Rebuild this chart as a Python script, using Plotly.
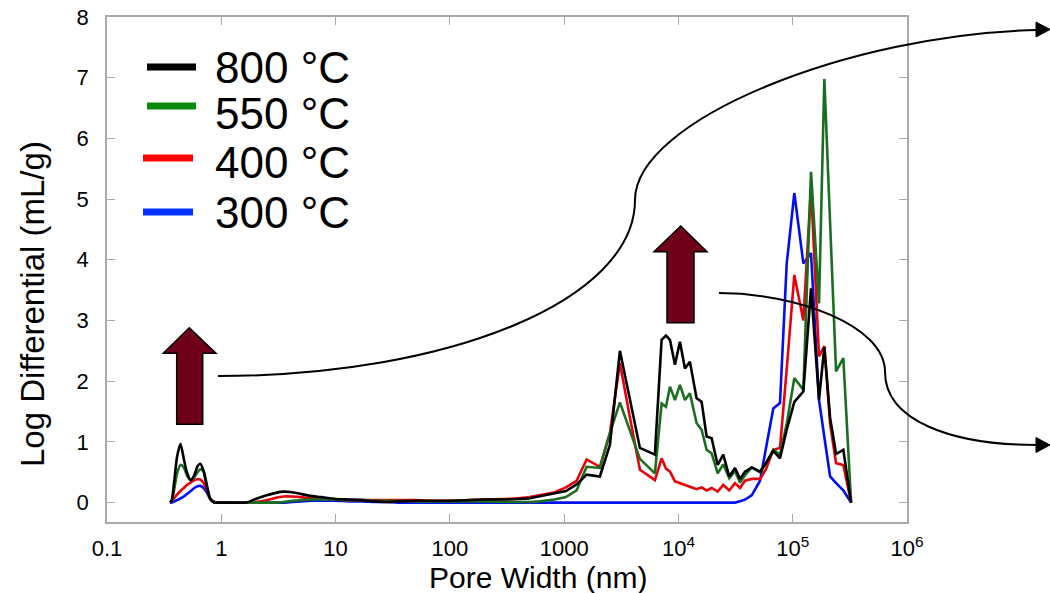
import plotly.graph_objects as go

# ---------------- data ----------------
pore_width_nm = [
    0.357, 0.37, 0.39, 0.41, 0.44, 0.47, 0.50, 0.54, 0.58, 0.62,
    0.655, 0.70, 0.75, 0.80, 0.87, 0.95, 1.3, 1.66, 2.0, 2.5,
    3.0, 3.5, 4.2, 5.0, 6.0, 7.5, 10, 13, 17, 22,
    28, 35, 50, 70, 100, 150, 200, 300, 400, 500,
    612, 829, 1036, 1285, 1572, 2054, 2514, 3075, 3762, 4602,
    6224, 7125, 7778, 8433, 9325, 10310, 11400, 12600, 14420, 15950,
    17650, 19530, 22050, 24670, 27850, 31250, 34570, 38240, 43780, 51770,
    58380, 67610, 77380, 88630, 103300, 123900, 144600, 169900, 189100, 212300,
    239500, 277200, 324200,
]

t800 = [
    0.0, 0.05, 0.40, 0.75, 0.97, 0.72, 0.50, 0.37, 0.45, 0.60,
    0.64, 0.52, 0.25, 0.06, 0.0, 0.0, 0.0, 0.0, 0.06, 0.12,
    0.16, 0.18, 0.17, 0.14, 0.11, 0.09, 0.06, 0.05, 0.04, 0.02,
    0.01, 0.02, 0.03, 0.03, 0.03, 0.04, 0.05, 0.05, 0.06, 0.07,
    0.10, 0.15, 0.19, 0.30, 0.46, 0.43, 0.95, 2.50, 1.70, 0.90,
    0.79, 2.68, 2.75, 2.68, 2.27, 2.65, 2.21, 2.32, 1.72, 1.66,
    1.09, 1.06, 0.62, 0.79, 0.43, 0.57, 0.39, 0.51, 0.58, 0.51,
    0.65, 0.85, 0.73, 1.20, 1.66, 1.83, 3.53, 1.70, 2.56, 1.40,
    0.80, 0.87, 0.0,
]

t550 = [
    0.0, 0.03, 0.25, 0.48, 0.62, 0.58, 0.45, 0.37, 0.42, 0.50,
    0.55, 0.52, 0.28, 0.06, 0.0, 0.0, 0.0, 0.0, 0.0, 0.0,
    0.0, 0.01, 0.03, 0.04, 0.05, 0.05, 0.05, 0.04, 0.04, 0.03,
    0.03, 0.03, 0.02, 0.02, 0.02, 0.02, 0.02, 0.01, 0.01, 0.01,
    0.02, 0.05, 0.09, 0.20, 0.59, 0.57, 1.15, 1.65, 1.20, 0.72,
    0.48, 1.63, 1.58, 1.91, 1.69, 1.94, 1.69, 1.80, 1.31, 1.20,
    0.87, 0.81, 0.48, 0.63, 0.40, 0.52, 0.33, 0.45, 0.58, 0.50,
    0.65, 0.87, 0.79, 1.30, 2.05, 1.86, 5.45, 3.28, 6.98, 4.60,
    2.16, 2.38, 0.0,
]

t400 = [
    0.0, 0.03, 0.08, 0.13, 0.19, 0.24, 0.29, 0.33, 0.37, 0.385,
    0.38, 0.32, 0.20, 0.07, 0.01, 0.0, 0.0, 0.0, 0.01, 0.04,
    0.08, 0.10, 0.10, 0.09, 0.07, 0.06, 0.05, 0.04, 0.04, 0.04,
    0.04, 0.04, 0.04, 0.03, 0.03, 0.04, 0.05, 0.06, 0.07, 0.09,
    0.12, 0.17, 0.25, 0.36, 0.71, 0.59, 1.14, 2.30, 1.40, 0.54,
    0.37, 0.73, 0.56, 0.51, 0.35, 0.32, 0.29, 0.26, 0.22, 0.25,
    0.20, 0.24, 0.18, 0.29, 0.20, 0.32, 0.24, 0.36, 0.39, 0.39,
    0.55, 0.87, 0.90, 2.20, 3.75, 3.00, 5.20, 2.41, 2.58, 1.30,
    0.65, 0.62, 0.0,
]

t300 = [
    0.0, 0.0, 0.02, 0.04, 0.07, 0.10, 0.14, 0.19, 0.24, 0.27,
    0.275, 0.24, 0.16, 0.06, 0.01, 0.0, 0.0, 0.0, 0.0, 0.0,
    0.0, 0.0, 0.01, 0.02, 0.03, 0.03, 0.03, 0.02, 0.02, 0.01,
    0.01, 0.0, 0.0, 0.0, 0.0, 0.0, 0.0, 0.0, 0.0, 0.0,
    0.0, 0.0, 0.0, 0.0, 0.0, 0.0, 0.0, 0.0, 0.0, 0.0,
    0.0, 0.0, 0.0, 0.0, 0.0, 0.0, 0.0, 0.0, 0.0, 0.0,
    0.0, 0.0, 0.0, 0.0, 0.0, 0.0, 0.02, 0.05, 0.12, 0.36,
    0.90, 1.55, 1.64, 3.94, 5.10, 3.94, 4.11, 1.69, 1.08, 0.43,
    0.32, 0.20, 0.0,
]

series_names = ["800 °C", "550 °C", "400 °C", "300 °C"]
x_tick_vals = [0.1, 1, 10, 100, 1000, 1e4, 1e5, 1e6]
x_tick_text = ["0.1", "1", "10", "100", "1000", "10<sup>4</sup>", "10<sup>5</sup>", "10<sup>6</sup>"]
y_tick_vals = [0, 1, 2, 3, 4, 5, 6, 7, 8]

# ---------------- styling ----------------
W, H = 1050, 593
PL, PR, PT, PB = 107, 907, 17, 522
FONT = "Liberation Sans, Arial, sans-serif"

def fx(x):
    return (x - PL) / (PR - PL)

def fy(y):
    return (PB - y) / (PB - PT)

def path(cmds):
    out = []
    for c in cmds:
        if isinstance(c, str):
            out.append(c)
        else:
            out.append(f"{fx(c[0]):.5f},{fy(c[1]):.5f}")
    return " ".join(out)

plot_colors = {"800 °C": "#000000", "550 °C": "#1a6e1f", "400 °C": "#e8000b", "300 °C": "#0010f0"}
legend_colors = {"800 °C": "#000000", "550 °C": "#0a8a0a", "400 °C": "#ff0000", "300 °C": "#0033ff"}
values = {"800 °C": t800, "550 °C": t550, "400 °C": t400, "300 °C": t300}

fig = go.Figure()
split = 40
for name in ["300 °C", "400 °C", "550 °C", "800 °C"]:
    v = values[name]
    c = plot_colors[name]
    fig.add_trace(go.Scatter(x=pore_width_nm[:split], y=v[:split], mode="lines",
                             line=dict(color=c, width=2.6, shape="spline", smoothing=0.6),
                             showlegend=False, hoverinfo="skip"))
    fig.add_trace(go.Scatter(x=pore_width_nm[split - 1:], y=v[split - 1:], mode="lines",
                             line=dict(color=c, width=2.6),
                             showlegend=False, name=name))

shapes = []
# custom legend
leg = [("800 °C", 147, 196, 67, 68), ("550 °C", 147, 196, 106, 114),
       ("400 °C", 143, 193, 158, 162), ("300 °C", 143, 193, 212, 212)]
annotations = []
for name, x0, x1, ly, ty in leg:
    shapes.append(dict(type="line", xref="paper", yref="paper", x0=fx(x0), x1=fx(x1), y0=fy(ly), y1=fy(ly),
                       line=dict(color=legend_colors[name], width=7)))
    annotations.append(dict(text=name, xref="paper", yref="paper", x=fx(213), y=fy(ty),
                            xanchor="left", yanchor="middle", showarrow=False,
                            font=dict(size=44, color="black", family=FONT)))

arrow_fill = "#6e0019"
# block arrows
shapes.append(dict(type="path", xref="paper", yref="paper",
                   path=path(["M", (189.3, 327.7), "L", (216, 353.3), "L", (202.7, 353.3), "L", (202.7, 424.3),
                              "L", (176.7, 424.3), "L", (176.7, 353.3), "L", (163.3, 353.3), "Z"]),
                   fillcolor=arrow_fill, line=dict(color="black", width=1.5)))
shapes.append(dict(type="path", xref="paper", yref="paper",
                   path=path(["M", (680.7, 226), "L", (707, 251.7), "L", (694, 251.7), "L", (694, 322.7),
                              "L", (667, 322.7), "L", (667, 251.7), "L", (654, 251.7), "Z"]),
                   fillcolor=arrow_fill, line=dict(color="black", width=1.5)))
# curved arrows
shapes.append(dict(type="path", xref="paper", yref="paper",
                   path=path(["M", (218, 376), "C", (450, 376), (635, 300), (635, 200),
                              "C", (635, 120), (850, 34), (1037, 30)]),
                   line=dict(color="black", width=2)))
shapes.append(dict(type="path", xref="paper", yref="paper",
                   path=path(["M", (1050, 29.5), "L", (1036, 22), "L", (1036, 37), "Z"]),
                   fillcolor="black", line=dict(color="black", width=1)))
shapes.append(dict(type="path", xref="paper", yref="paper",
                   path=path(["M", (719, 293), "C", (795, 293), (885, 325), (885, 372),
                              "C", (885, 420), (950, 445), (1037, 445)]),
                   line=dict(color="black", width=2)))
shapes.append(dict(type="path", xref="paper", yref="paper",
                   path=path(["M", (1050, 445), "L", (1036, 437.5), "L", (1036, 452.5), "Z"]),
                   fillcolor="black", line=dict(color="black", width=1)))

# axis titles
annotations.append(dict(text="Pore Width (nm)", xref="paper", yref="paper", x=fx(538), y=fy(577),
                        xanchor="center", yanchor="middle", showarrow=False,
                        font=dict(size=30, color="black", family=FONT)))
annotations.append(dict(text="Log Differential (mL/g)", xref="paper", yref="paper", x=fx(32), y=fy(304),
                        xanchor="center", yanchor="middle", showarrow=False, textangle=-90,
                        font=dict(size=33, color="black", family=FONT)))

axis_common = dict(ticks="inside", ticklen=8, tickwidth=1.2, tickcolor="#aaaaaa",
                   showline=True, linecolor="#aaaaaa", linewidth=1.5, mirror="ticks",
                   showgrid=False, zeroline=False,
                   tickfont=dict(size=22, color="black", family=FONT))

fig.update_layout(
    width=W, height=H,
    margin=dict(l=PL, r=W - PR, t=PT, b=H - PB, autoexpand=False),
    paper_bgcolor="white", plot_bgcolor="white",
    showlegend=False,
    xaxis=dict(type="log", range=[-1, 6], tickvals=x_tick_vals, ticktext=x_tick_text,
               ticklabelstandoff=6, **axis_common),
    yaxis=dict(range=[-0.32, 8], tickvals=y_tick_vals, ticklabelstandoff=12, **axis_common),
    shapes=shapes, annotations=annotations,
)

fig.write_html("out.html", include_plotlyjs=True, config={"displayModeBar": False})
